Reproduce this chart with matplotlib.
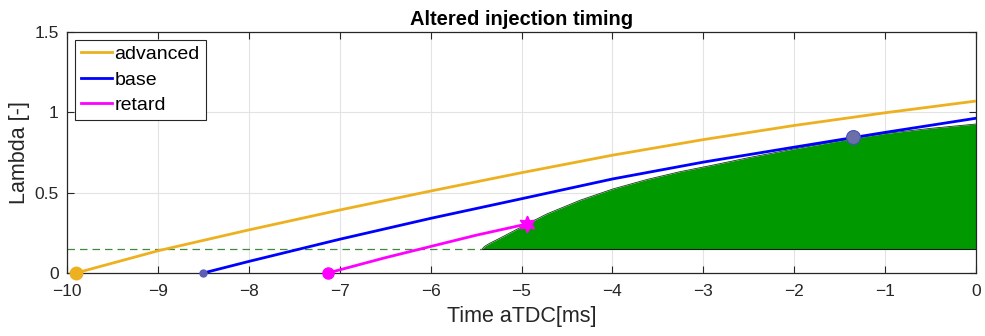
import matplotlib
matplotlib.use("Agg")
import matplotlib.pyplot as plt

plt.rcParams['font.family'] = ['Liberation Sans', 'DejaVu Sans']

# ---- data ----
adv_x = [-9.9, -9, -8, -7, -6, -5, -4, -3, -2, -1, 0]
adv_y = [0, 0.138, 0.268, 0.392, 0.51, 0.624, 0.733, 0.83, 0.918, 0.997, 1.07]

base_x = [-8.5, -8, -7, -6, -5, -4, -3, -2, -1, 0]
base_y = [0, 0.072, 0.21, 0.34, 0.462, 0.585, 0.69, 0.783, 0.875, 0.963]

ret_x = [-7.13, -6.5, -6, -5.5, -4.94]
ret_y = [0, 0.095, 0.165, 0.235, 0.305]

zone_x = [-5.43, -5.42, -5.4, -5.35, -5.28, -5.2, -5.1, -4.94, -4.72, -4.36, -4.0,
          -3.62, -3.26, -2.89, -2.5, -2.02, -1.35, -1.0, -0.5, 0]
zone_y = [0.15, 0.158, 0.168, 0.185, 0.205, 0.228, 0.258, 0.305, 0.368, 0.452, 0.522,
          0.582, 0.63, 0.672, 0.718, 0.77, 0.838, 0.868, 0.9, 0.927]
zone_floor = 0.15

base_mark = (-1.35, 0.845)

labels = ['advanced', 'base', 'retard']
xticks = [-10, -9, -8, -7, -6, -5, -4, -3, -2, -1, 0]
yticks = [0, 0.5, 1, 1.5]
yticklabels = ['0', '0.5', '1', '1.5']

ORANGE = '#EDB120'
BLUE = '#0000FF'
MAGENTA = '#FF00FF'
GREEN = '#009900'
TXT = '#262626'

fig = plt.figure(figsize=(9.85, 3.36), dpi=100)
ax = fig.add_axes([0.068, 0.1875, 0.923, 0.7175])

# green zone
ax.fill_between(zone_x, zone_y, zone_floor, color=GREEN, linewidth=0, zorder=2)
ax.plot(zone_x, zone_y, color='#1a3a1a', lw=0.6, zorder=2.1)
ax.plot([zone_x[0], zone_x[-1]], [zone_floor, zone_floor], color='#1a1a1a', lw=0.8, zorder=2.1)
# dashed threshold
ax.plot([-10, zone_x[0]], [zone_floor, zone_floor], color='#3f8a3f', lw=0.9,
        linestyle=(0, (6, 4)), zorder=2.2)

l1, = ax.plot(adv_x, adv_y, color=ORANGE, lw=2, label=labels[0], zorder=3)
l2, = ax.plot(base_x, base_y, color=BLUE, lw=2, label=labels[1], zorder=3)
l3, = ax.plot(ret_x, ret_y, color=MAGENTA, lw=2, label=labels[2], zorder=3)

# markers
ax.plot(adv_x[0], adv_y[0], 'o', color=ORANGE, ms=9, zorder=5, clip_on=False)
ax.plot(base_x[0], base_y[0], 'o', color='#5b5fb5', ms=5, zorder=5, clip_on=False)
ax.plot(ret_x[0], ret_y[0], 'o', color=MAGENTA, ms=8, zorder=5, clip_on=False)
ax.plot(ret_x[-1], ret_y[-1], marker=(6, 1, 0), color=MAGENTA, ms=12, zorder=5)
ax.plot(base_mark[0], base_mark[1], 'o', mfc='#6b6fa8', mec='#4a50c0', mew=0.8, ms=10, zorder=5)

ax.set_xlim(-10, 0)
ax.set_ylim(0, 1.5)
ax.set_xticks(xticks)
ax.set_xticklabels([('\u2212' + str(-t)) if t < 0 else str(t) for t in xticks])
ax.set_yticks(yticks)
ax.set_yticklabels(yticklabels)
ax.grid(True, color='#e3e3e3', lw=0.8)
ax.set_axisbelow(True)
ax.tick_params(direction='in', length=5, width=0.8, colors=TXT, labelsize=12.5,
               top=True, right=True)
ax.tick_params(axis='x', pad=8)
ax.tick_params(axis='y', pad=6)
for s in ax.spines.values():
    s.set_color(TXT)
    s.set_linewidth(0.9)

ax.set_title('Altered injection timing', fontsize=14.5, fontweight='bold', color='black', pad=5)
ax.set_xlabel('Time aTDC[ms]', fontsize=15.5, color=TXT, labelpad=5)
ax.set_ylabel('Lambda [-]', fontsize=15.5, color=TXT, labelpad=3)

leg = ax.legend(handles=[l1, l2, l3], loc='upper left', fontsize=14,
                bbox_to_anchor=(0.0, 1.0), borderaxespad=0.4,
                fancybox=False, framealpha=1, edgecolor=TXT,
                handlelength=1.6, handletextpad=0.15, borderpad=0.3,
                labelspacing=0.4)
leg.get_frame().set_linewidth(0.8)
for t in leg.get_texts():
    t.set_color('black')

fig.savefig('out.png', dpi=100)
